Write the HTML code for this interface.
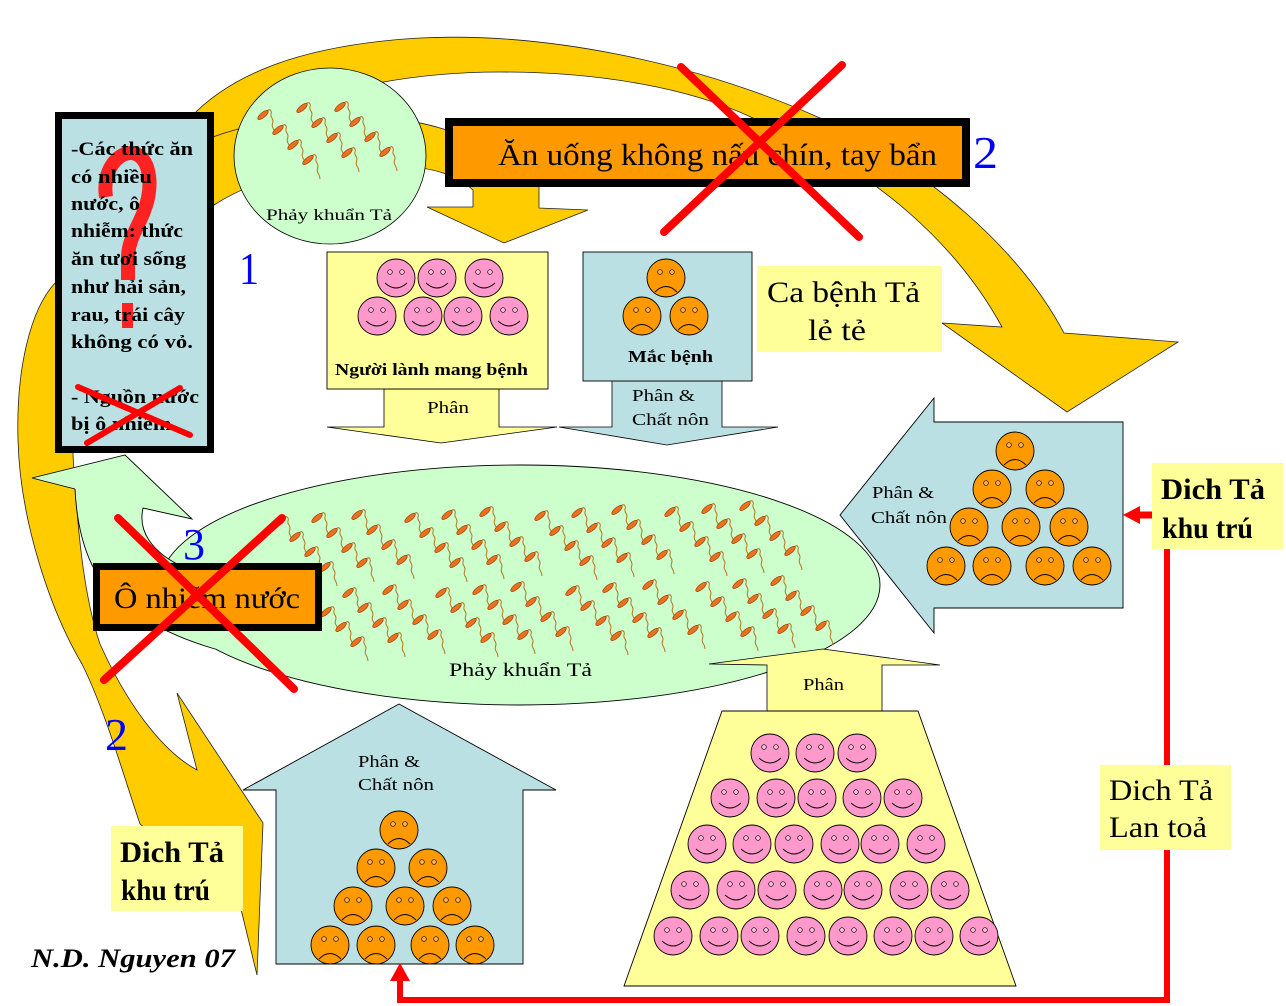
<!DOCTYPE html>
<html><head><meta charset="utf-8"><style>
html,body{margin:0;padding:0;background:#fff;width:1286px;height:1006px;overflow:hidden}
svg{display:block}
text{font-family:"Liberation Serif","DejaVu Serif",serif}
</style></head><body>
<svg width="1286" height="1006" viewBox="0 0 1286 1006" xmlns="http://www.w3.org/2000/svg">
<rect width="1286" height="1006" fill="#fff"/>
<defs>
<g id="b">
<path d="M4,-4 C7,-7 9,-4 8,-1 C7,2 10,3 10,6 C10,9 8,10 10,13 C11,15 12,16 12,19" fill="none" stroke="#b07820" stroke-width="1"/>
<ellipse rx="6.5" ry="2.5" transform="rotate(-40)" fill="#e8731f" stroke="#a33d0c" stroke-width="0.7"/>
</g>
<g id="c"><use href="#b"/><use href="#b" x="15" y="15"/><use href="#b" x="30" y="30"/><use href="#b" x="45" y="45"/></g>
<g id="hf"><circle r="19" fill="#ff99cc" stroke="#000" stroke-width="0.9"/><circle cx="-6" cy="-6" r="2.3" fill="#ffc0dd" stroke="#000" stroke-width="0.7"/><circle cx="6" cy="-6" r="2.3" fill="#ffc0dd" stroke="#000" stroke-width="0.7"/><path d="M-11,5 Q0,15 11,5" fill="none" stroke="#000" stroke-width="0.9"/></g>
<g id="sf"><circle r="19" fill="#ff9900" stroke="#000" stroke-width="0.9"/><circle cx="-6" cy="-6" r="2.3" fill="#ffb84d" stroke="#000" stroke-width="0.7"/><circle cx="6" cy="-6" r="2.3" fill="#ffb84d" stroke="#000" stroke-width="0.7"/><path d="M-11,14 Q0,3 11,14" fill="none" stroke="#000" stroke-width="0.9"/></g>
</defs>

<!-- big yellow arc A -->
<path d="M190,118 C230,75 300,45 420,38 C540,32 690,60 820,118 C930,170 1020,250 1064,333 L1178,342 L1067,412 L942,323 L1002,327 C960,250 880,170 753,118 C690,88 600,72 500,72 C400,72 290,95 237,137 L205,160 Z" fill="#ffcc00" stroke="#222" stroke-width="0.8"/>
<!-- yellow arrow 2 -->
<path d="M205,140 C280,110 380,110 440,128 C500,145 535,165 539,187 L539,208 L588,210 L504,243 L427,207 L473,207 L473,190 C460,178 440,170 420,168 C330,160 260,175 214,205 Z" fill="#ffcc00" stroke="#222" stroke-width="0.8"/>
<!-- left arc B -->
<path d="M55,283 C30,310 16,370 18,440 C20,520 50,610 82,664 C105,710 125,780 140,824 L240,905 L257,975 L263,823 L177,693 L197,770 C160,750 125,700 100,644 C85,600 78,540 73,455 L70,290 Z" fill="#ffcc00" stroke="#222" stroke-width="0.8"/>

<!-- small circle -->
<ellipse cx="330" cy="156" rx="96" ry="88" fill="#ccffcc" stroke="#000" stroke-width="0.8"/>
<use href="#c" x="263" y="115"/><use href="#c" x="302" y="108"/><use href="#c" x="340" y="107"/>
<text x="266" y="220" font-size="16" textLength="126" lengthAdjust="spacingAndGlyphs">Phảy khuẩn Tả</text>

<!-- left text box -->
<rect x="58.5" y="115.5" width="152" height="334" fill="#bbe0e3" stroke="#000" stroke-width="7"/>
<path d="M106,197 C102,170 118,152 132,153 C148,155 152,178 148,198 C143,222 128,236 128,258 L128,280" fill="none" stroke="#f22" stroke-width="14" stroke-linecap="butt"/>
<rect x="122" y="303" width="11" height="25" fill="#f22"/>
<g font-size="19" font-weight="bold" fill="#000">
<text x="71" y="155" textLength="122" lengthAdjust="spacingAndGlyphs">-Các thức ăn</text>
<text x="71" y="183" textLength="81" lengthAdjust="spacingAndGlyphs">có nhiều</text>
<text x="71" y="210" textLength="69" lengthAdjust="spacingAndGlyphs">nước, ô</text>
<text x="71" y="237" textLength="112" lengthAdjust="spacingAndGlyphs">nhiễm: thức</text>
<text x="71" y="265" textLength="115" lengthAdjust="spacingAndGlyphs">ăn tươi sống</text>
<text x="71" y="293" textLength="115" lengthAdjust="spacingAndGlyphs">như hải sản,</text>
<text x="71" y="321" textLength="114" lengthAdjust="spacingAndGlyphs">rau, trái cây</text>
<text x="71" y="348" textLength="122" lengthAdjust="spacingAndGlyphs">không có vỏ.</text>
<text x="71" y="403" textLength="128" lengthAdjust="spacingAndGlyphs">- Nguồn nước</text>
<text x="71" y="430" textLength="106" lengthAdjust="spacingAndGlyphs">bị ô nhiễm.</text>
</g>
<line x1="78" y1="387" x2="190" y2="435" stroke="#f00" stroke-width="6" stroke-linecap="round"/>
<line x1="180" y1="388" x2="87" y2="443" stroke="#f00" stroke-width="6" stroke-linecap="round"/>

<!-- top orange box -->
<rect x="449" y="122" width="517" height="61" fill="#ff9900" stroke="#000" stroke-width="8"/>
<text x="498" y="165" font-size="31" textLength="439" lengthAdjust="spacingAndGlyphs">Ăn uống không nấu chín, tay bẩn</text>
<text x="973" y="168" font-size="46" fill="#0000ff" textLength="25" lengthAdjust="spacingAndGlyphs">2</text>
<text x="239" y="284" font-size="46" fill="#0000ff" textLength="20" lengthAdjust="spacingAndGlyphs">1</text>

<!-- down arrows -->
<path d="M384,389 L499,389 L499,427 L557,427 L441,443 L327,427 L384,427 Z" fill="#ffff99" stroke="#000" stroke-width="0.8"/>
<path d="M612,381 L722,381 L722,427 L778,427 L667,445 L559,427 L612,427 Z" fill="#bbe0e3" stroke="#000" stroke-width="0.8"/>
<text x="427" y="413" font-size="17" textLength="42" lengthAdjust="spacingAndGlyphs">Phân</text>
<text x="632" y="401" font-size="17" textLength="63" lengthAdjust="spacingAndGlyphs">Phân &amp;</text>
<text x="632" y="425" font-size="17" textLength="77" lengthAdjust="spacingAndGlyphs">Chất nôn</text>

<!-- Nguoi lanh box -->
<rect x="327" y="252" width="221" height="137" fill="#ffff99" stroke="#000" stroke-width="0.9"/>
<use href="#hf" x="396" y="278"/><use href="#hf" x="437" y="278"/><use href="#hf" x="484" y="278"/>
<use href="#hf" x="377" y="316"/><use href="#hf" x="423" y="316"/><use href="#hf" x="463" y="316"/><use href="#hf" x="509" y="316"/>
<text x="335" y="375" font-size="17" font-weight="bold" textLength="193" lengthAdjust="spacingAndGlyphs">Người lành mang bệnh</text>

<!-- Mac benh box -->
<rect x="583" y="252" width="169" height="129" fill="#bbe0e3" stroke="#000" stroke-width="0.9"/>
<use href="#sf" x="666" y="278"/><use href="#sf" x="642" y="316"/><use href="#sf" x="689" y="316"/>
<text x="628" y="362" font-size="17" font-weight="bold" textLength="85" lengthAdjust="spacingAndGlyphs">Mắc bệnh</text>

<!-- Ca benh ta le te -->
<rect x="757" y="266" width="185" height="86" fill="#ffff99"/>
<text x="767" y="302" font-size="30" textLength="153" lengthAdjust="spacingAndGlyphs">Ca bệnh Tả</text>
<text x="808" y="340" font-size="30" textLength="58" lengthAdjust="spacingAndGlyphs">lẻ tẻ</text>

<!-- right blue arrow -->
<path d="M840,515 L934,398 L934,422 L1123,422 L1123,608 L934,608 L934,633 Z" fill="#bbe0e3" stroke="#000" stroke-width="0.9"/>
<use href="#sf" x="1015" y="451"/>
<use href="#sf" x="992" y="489"/><use href="#sf" x="1045" y="489"/>
<use href="#sf" x="969" y="527"/><use href="#sf" x="1021" y="527"/><use href="#sf" x="1069" y="527"/>
<use href="#sf" x="946" y="566"/><use href="#sf" x="992" y="566"/><use href="#sf" x="1045" y="566"/><use href="#sf" x="1092" y="566"/>
<text x="872" y="498" font-size="17" textLength="62" lengthAdjust="spacingAndGlyphs">Phân &amp;</text>
<text x="871" y="523" font-size="17" textLength="76" lengthAdjust="spacingAndGlyphs">Chất nôn</text>

<!-- big ellipse -->
<ellipse cx="520" cy="585" rx="360" ry="120" fill="#ccffcc" stroke="#000" stroke-width="0.9"/>
<path d="M32,478 L125,455 L192,519 L143,508 C138,530 150,552 185,568 L240,600 L215,649 C150,630 110,600 92,565 C80,540 76,510 75,489 Z" fill="#ccffcc"/>
<path d="M75,489 L32,478 L125,455 L192,519 L143,508 C138,530 150,552 185,568" fill="none" stroke="#000" stroke-width="0.9"/>
<path d="M75,489 C76,510 80,540 92,565 C110,600 150,630 215,649" fill="none" stroke="#000" stroke-width="0.9"/>
<g>
<use href="#c" x="280" y="522"/><use href="#c" x="317" y="518"/><use href="#c" x="357" y="515"/>
<use href="#c" x="410" y="518"/><use href="#c" x="447" y="515"/><use href="#c" x="485" y="512"/>
<use href="#c" x="540" y="516"/><use href="#c" x="577" y="513"/><use href="#c" x="617" y="510"/>
<use href="#c" x="670" y="512"/><use href="#c" x="707" y="509"/><use href="#c" x="745" y="506"/>
<use href="#c" x="311" y="597"/><use href="#c" x="348" y="593"/><use href="#c" x="388" y="590"/>
<use href="#c" x="441" y="593"/><use href="#c" x="478" y="590"/><use href="#c" x="516" y="587"/>
<use href="#c" x="571" y="591"/><use href="#c" x="608" y="588"/><use href="#c" x="648" y="585"/>
<use href="#c" x="701" y="587"/><use href="#c" x="738" y="584"/><use href="#c" x="776" y="581"/>
</g>
<text x="449" y="676" font-size="19" textLength="143" lengthAdjust="spacingAndGlyphs">Phảy khuẩn Tả</text>

<!-- up arrow + trapezoid -->
<path d="M823,649 L940,665 L882,665 L882,711 L767,711 L767,665 L709,664 Z" fill="#ffff99" stroke="#000" stroke-width="0.8"/>
<text x="803" y="690" font-size="17" textLength="41" lengthAdjust="spacingAndGlyphs">Phân</text>
<path d="M722,711 L918,711 L1016,986 L624,986 Z" fill="#ffff99" stroke="#000" stroke-width="0.9"/>
<use href="#hf" x="770" y="753"/><use href="#hf" x="815" y="753"/><use href="#hf" x="857" y="753"/>
<use href="#hf" x="730" y="798"/><use href="#hf" x="776" y="798"/><use href="#hf" x="817" y="798"/><use href="#hf" x="862" y="798"/><use href="#hf" x="903" y="798"/>
<use href="#hf" x="707" y="844"/><use href="#hf" x="752" y="844"/><use href="#hf" x="794" y="844"/><use href="#hf" x="840" y="844"/><use href="#hf" x="880" y="844"/><use href="#hf" x="926" y="844"/>
<use href="#hf" x="690" y="890"/><use href="#hf" x="736" y="890"/><use href="#hf" x="777" y="890"/><use href="#hf" x="823" y="890"/><use href="#hf" x="863" y="890"/><use href="#hf" x="909" y="890"/><use href="#hf" x="950" y="890"/>
<use href="#hf" x="673" y="936"/><use href="#hf" x="719" y="936"/><use href="#hf" x="760" y="936"/><use href="#hf" x="806" y="936"/><use href="#hf" x="848" y="936"/><use href="#hf" x="893" y="936"/><use href="#hf" x="934" y="936"/><use href="#hf" x="979" y="936"/>

<!-- house arrow -->
<path d="M399,704 L556,790 L523,790 L523,964 L276,964 L276,790 L243,790 Z" fill="#bbe0e3" stroke="#000" stroke-width="0.9"/>
<text x="358" y="767" font-size="17" textLength="62" lengthAdjust="spacingAndGlyphs">Phân &amp;</text>
<text x="358" y="790" font-size="17" textLength="76" lengthAdjust="spacingAndGlyphs">Chất nôn</text>
<use href="#sf" x="399" y="830"/>
<use href="#sf" x="376" y="868"/><use href="#sf" x="428" y="868"/>
<use href="#sf" x="353" y="906"/><use href="#sf" x="405" y="906"/><use href="#sf" x="452" y="906"/>
<use href="#sf" x="330" y="945"/><use href="#sf" x="376" y="945"/><use href="#sf" x="430" y="945"/><use href="#sf" x="475" y="945"/>

<!-- O nhiem nuoc box -->
<rect x="96.5" y="566.5" width="222" height="61" fill="#ff9900" stroke="#000" stroke-width="7"/>
<text x="114" y="608" font-size="30" textLength="186" lengthAdjust="spacingAndGlyphs">Ô nhiễm nước</text>
<text x="183" y="559" font-size="44" fill="#0000ff" textLength="22" lengthAdjust="spacingAndGlyphs">3</text>
<text x="105" y="750" font-size="46" fill="#0000ff" textLength="23" lengthAdjust="spacingAndGlyphs">2</text>

<!-- labels -->
<rect x="111" y="826" width="132" height="85" fill="#ffff99"/>
<text x="120" y="862" font-size="30" font-weight="bold" textLength="104" lengthAdjust="spacingAndGlyphs">Dich Tả</text>
<text x="121" y="900" font-size="30" font-weight="bold" textLength="89" lengthAdjust="spacingAndGlyphs">khu trú</text>

<rect x="1152" y="463" width="131" height="86" fill="#ffff99"/>
<text x="1161" y="499" font-size="30" font-weight="bold" textLength="104" lengthAdjust="spacingAndGlyphs">Dich Tả</text>
<text x="1162" y="538" font-size="30" font-weight="bold" textLength="91" lengthAdjust="spacingAndGlyphs">khu trú</text>

<!-- red connectors -->
<path d="M1167,549 L1167,1000 L400,1000 L400,978" fill="none" stroke="#f00" stroke-width="6"/>
<polygon points="400,963 390,981 410,981" fill="#f00"/>
<line x1="1152" y1="515" x2="1136" y2="515" stroke="#f00" stroke-width="7"/>
<polygon points="1123,515 1140,506 1140,524" fill="#f00"/>

<rect x="1100" y="765" width="131" height="85" fill="#ffff99"/>
<text x="1109" y="800" font-size="30" textLength="104" lengthAdjust="spacingAndGlyphs">Dich Tả</text>
<text x="1109" y="837" font-size="30" textLength="98" lengthAdjust="spacingAndGlyphs">Lan toả</text>

<!-- red X marks -->
<g stroke="#f00" stroke-width="8" stroke-linecap="round">
<line x1="681" y1="67" x2="859" y2="237"/>
<line x1="842" y1="65" x2="664" y2="232"/>
<line x1="118" y1="518" x2="294" y2="689"/>
<line x1="282" y1="518" x2="104" y2="680"/>
</g>

<!-- signature -->
<text x="31" y="967" font-size="26" font-style="italic" font-weight="bold" textLength="204" lengthAdjust="spacingAndGlyphs">N.D. Nguyen 07</text>
</svg>
</body></html>
